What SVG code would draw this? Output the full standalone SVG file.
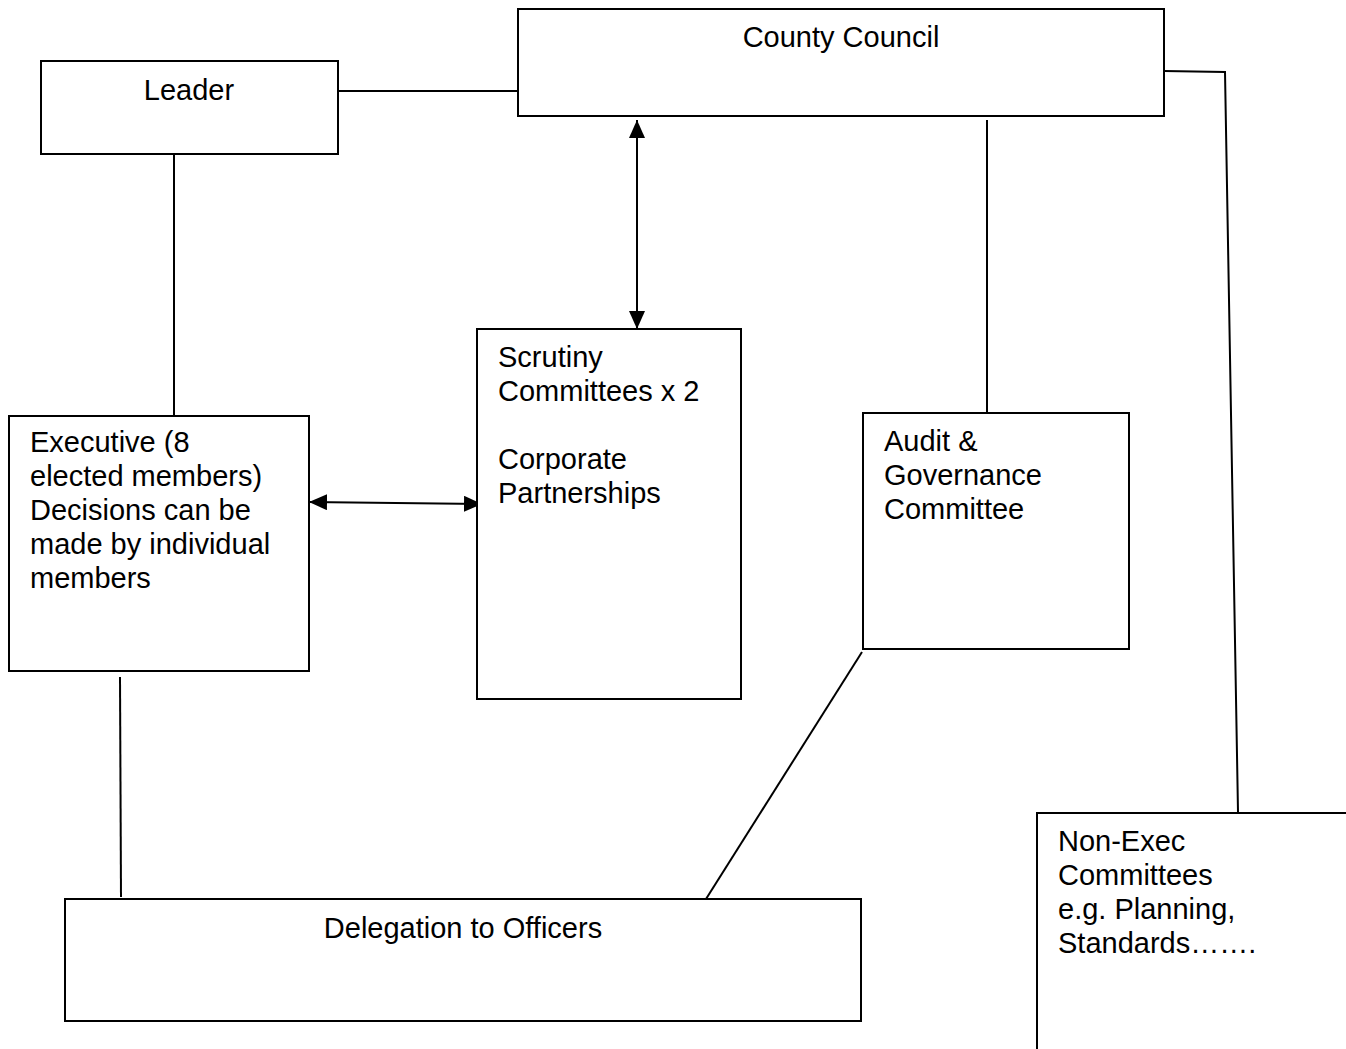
<svg xmlns="http://www.w3.org/2000/svg" width="1346" height="1049" viewBox="0 0 1346 1049">
<style>
.box{fill:#fff;stroke:#000;stroke-width:2}
.ln{fill:none;stroke:#000;stroke-width:2}
text{font-family:"Liberation Sans",Arial,sans-serif;font-size:29px;fill:#000}
.c{text-anchor:middle}
</style>
<defs>
<marker id="a" viewBox="0 0 18 16" refX="18" refY="8" markerWidth="18" markerHeight="16" markerUnits="userSpaceOnUse" orient="auto-start-reverse">
<path d="M0,0 L18,8 L0,16 z" fill="#000"/>
</marker>
</defs>
<rect width="1346" height="1049" fill="#fff"/>
<g id="connectors">
<line class="ln" x1="338" y1="91" x2="518" y2="91"/>
<line class="ln" x1="174" y1="154" x2="174" y2="416"/>
<line class="ln" x1="637" y1="120" x2="637" y2="329" marker-start="url(#a)" marker-end="url(#a)"/>
<line class="ln" x1="309" y1="502" x2="482" y2="504" marker-start="url(#a)" marker-end="url(#a)"/>
<line class="ln" x1="987" y1="120" x2="987" y2="412"/>
<line class="ln" x1="862" y1="652" x2="706" y2="899"/>
<line class="ln" x1="120" y1="677" x2="121" y2="897"/>
<polyline class="ln" points="1164,71 1225,72 1238,812"/>
</g>
<g id="county-council">
<rect class="box" x="518" y="9" width="646" height="107"/>
<text class="c" x="841" y="47">County Council</text>
</g>
<g id="leader">
<rect class="box" x="41" y="61" width="297" height="93"/>
<text class="c" x="189" y="100">Leader</text>
</g>
<g id="executive">
<rect class="box" x="9" y="416" width="300" height="255"/>
<text x="30" y="452">Executive (8</text>
<text x="30" y="486">elected members)</text>
<text x="30" y="520">Decisions can be</text>
<text x="30" y="554">made by individual</text>
<text x="30" y="588">members</text>
</g>
<g id="scrutiny">
<rect class="box" x="477" y="329" width="264" height="370"/>
<text x="498" y="367">Scrutiny</text>
<text x="498" y="401">Committees x 2</text>
<text x="498" y="469">Corporate</text>
<text x="498" y="503">Partnerships</text>
</g>
<g id="audit">
<rect class="box" x="863" y="413" width="266" height="236"/>
<text x="884" y="451">Audit &amp;</text>
<text x="884" y="485">Governance</text>
<text x="884" y="519">Committee</text>
</g>
<g id="delegation">
<rect class="box" x="65" y="899" width="796" height="122"/>
<text class="c" x="463" y="938">Delegation to Officers</text>
</g>
<g id="non-exec">
<path class="ln" d="M1037,1049 L1037,813 L1346,813"/>
<text x="1058" y="851">Non-Exec</text>
<text x="1058" y="885">Committees</text>
<text x="1058" y="919">e.g. Planning,</text>
<text x="1058" y="953">Standards…….</text>
</g>
</svg>
